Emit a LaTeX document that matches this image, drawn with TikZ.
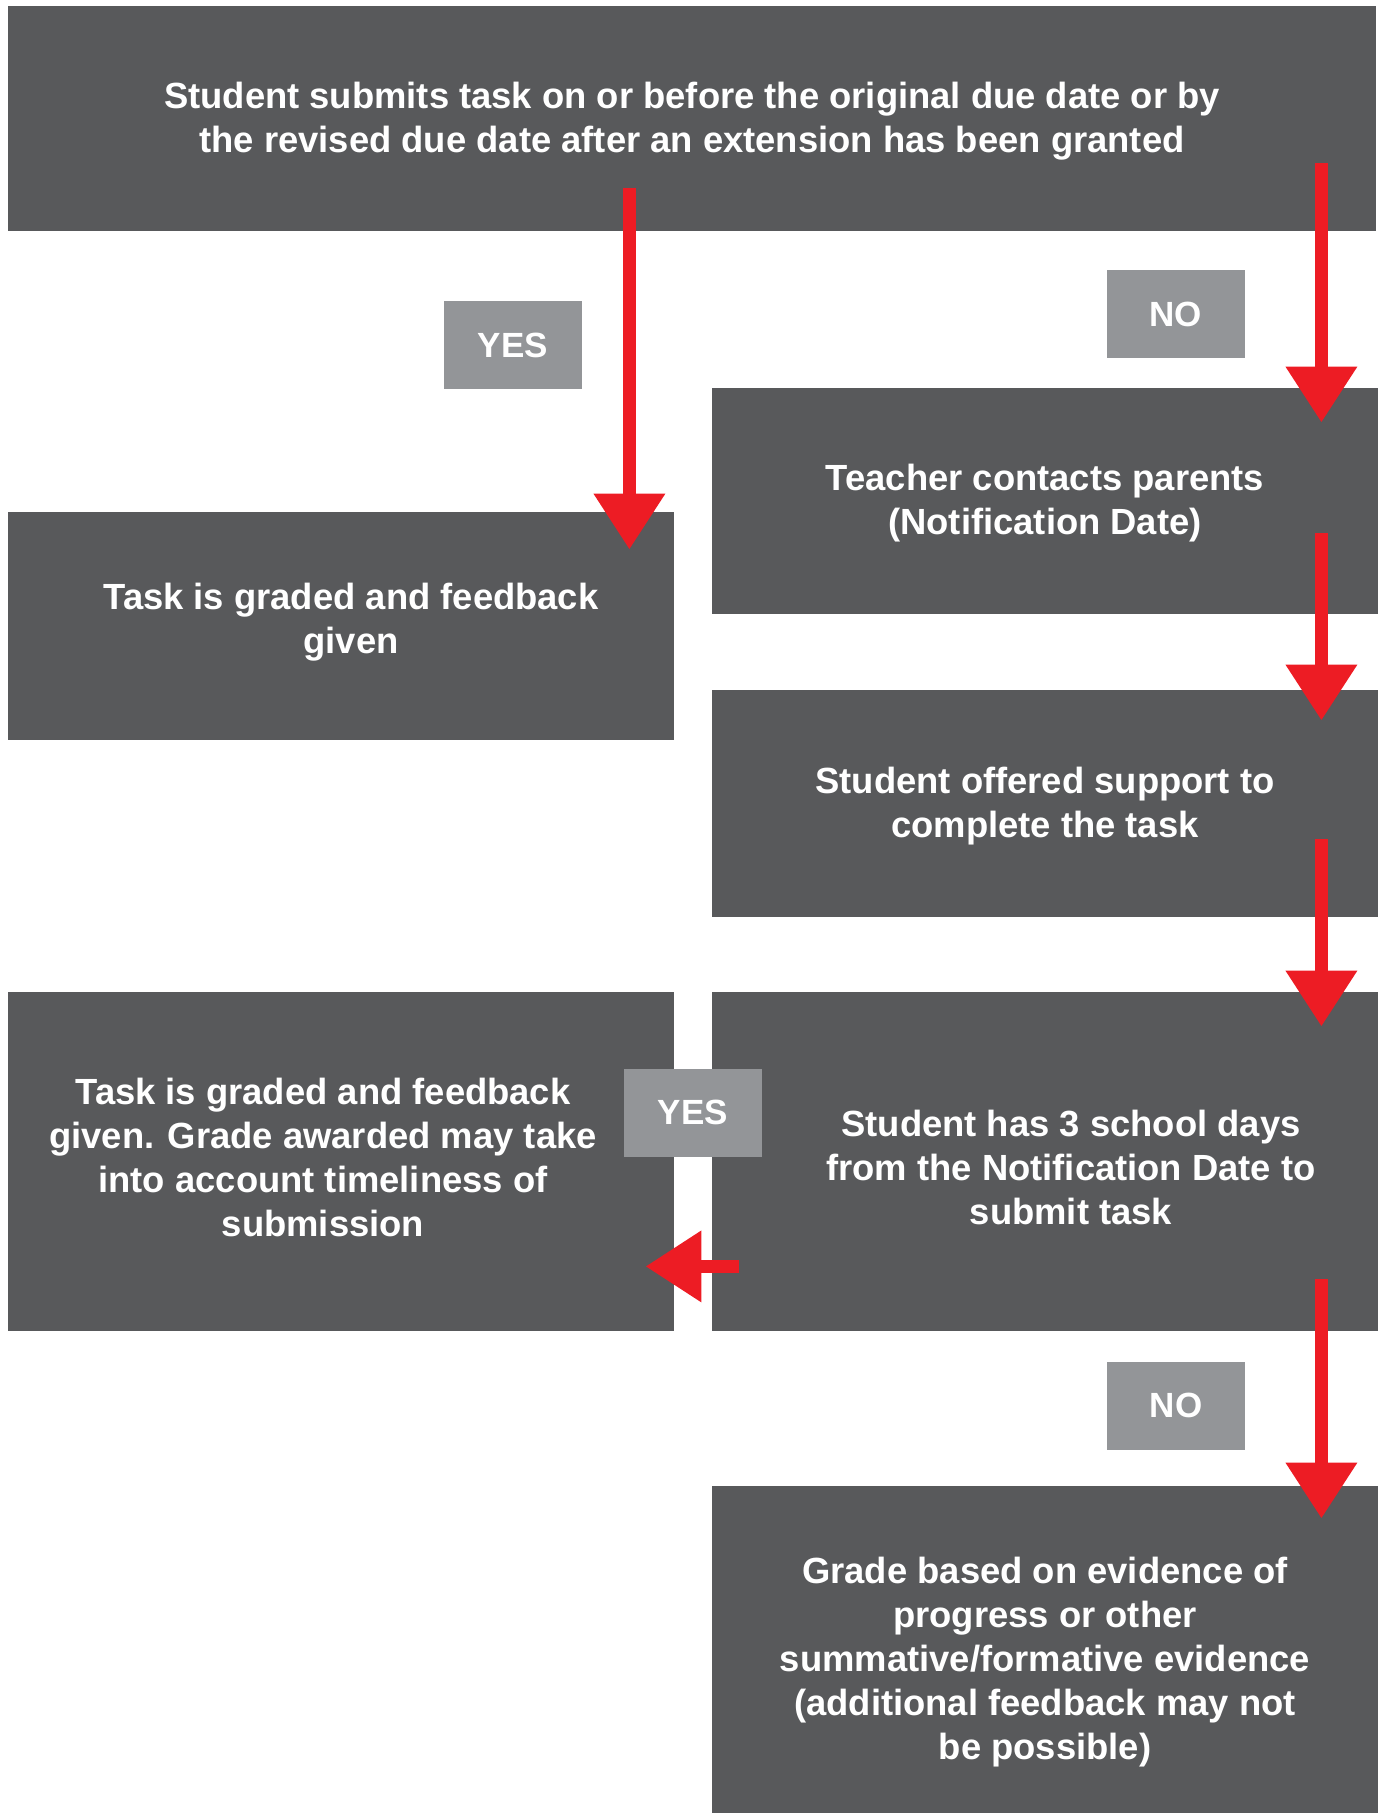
\documentclass[tikz,border=0pt]{standalone}
\usepackage{fontspec}
\setmainfont{Liberation Sans}
\usetikzlibrary{arrows.meta,calc}

\definecolor{boxgray}{HTML}{58595B}
\definecolor{labelgray}{HTML}{939598}
\definecolor{arrowred}{HTML}{ED1C24}

\newcommand{\steptext}[3][0pt]{\hspace*{#1}\raisebox{#2}[\height][\depth]{\begin{tabular}{@{}c@{}}#3\end{tabular}}}

\begin{document}
\begin{tikzpicture}[x=0.5pt,y=-0.5pt,
    stepbox/.style={fill=boxgray,text=white,inner sep=0pt,minimum width=333pt,
        font=\bfseries\fontsize{18.2}{22}\selectfont},
    answer/.style={fill=labelgray,text=white,inner sep=0pt,minimum width=69pt,minimum height=44pt,
        font=\bfseries\fontsize{17.5}{22}\selectfont},
    flow/.style={draw=arrowred,line width=6.8pt,-{Triangle[width=34pt,length=28pt]}}]
    \useasboundingbox (0,0) rectangle (1384,1813);

    \node[stepbox,minimum width=684pt,minimum height=112.5pt] (submit) at (692,118.5)
        {\steptext{-1.7pt}{Student submits task on or before the original due date or by\\the revised due date after an extension has been granted}};
    \node[stepbox,minimum height=114pt] (graded) at (341,626) {\steptext[10pt]{1.7pt}{Task is graded and feedback\\given}};
    \node[stepbox,minimum height=113pt] (contact) at (1045,501) {\steptext{-1.2pt}{Teacher contacts parents\\(Notification Date)}};
    \node[stepbox,minimum height=113.5pt] (support) at (1045,803.5) {\steptext{-1.7pt}{Student offered support to\\complete the task}};
    \node[stepbox,minimum height=169.5pt] (deadline) at (1045,1161.5)
        {\steptext[26pt]{-5.2pt}{Student has 3 school days\\from the Notification Date to\\submit task}};
    \node[stepbox,minimum height=169.5pt] (late) at (341,1161.5)
        {\steptext[-18pt]{0pt}{Task is graded and feedback\\given. Grade awarded may take\\into account timeliness of\\submission}};
    \node[stepbox,minimum height=163.5pt] (evidence) at (1045,1649.5)
        {\steptext{-6.4pt}{Grade based on evidence of\\progress or other\\summative/formative evidence\\(additional feedback may not\\be possible)}};

    \node[answer] (yesA) at (513,345) {YES};
    \node[answer] (noA) at (1175.5,314.5) {NO};
    \node[answer] (yesB) at (693,1112.5) {YES};
    \node[answer] (noB) at (1176,1405.5) {NO};

    \draw[flow] ($(submit.south -| graded.east)+(-45,-43)$) -- ($(graded.north east)+(-45,38)$);
    \draw[flow] ($(submit.south -| contact.east)+(-57,-68)$) -- ($(contact.north east)+(-57,35)$);
    \draw[flow] ($(contact.south east)+(-57,-81)$) -- ($(support.north east)+(-57,31)$);
    \draw[flow] ($(support.south east)+(-57,-78)$) -- ($(deadline.north east)+(-57,35)$);
    \draw[flow] ($(deadline.south west)+(27,-65)$) -- ($(deadline.south west -| late.east)+(-29,-65)$);
    \draw[flow] ($(deadline.south east)+(-57,-52)$) -- ($(evidence.north east)+(-57,33)$);
\end{tikzpicture}
\end{document}
